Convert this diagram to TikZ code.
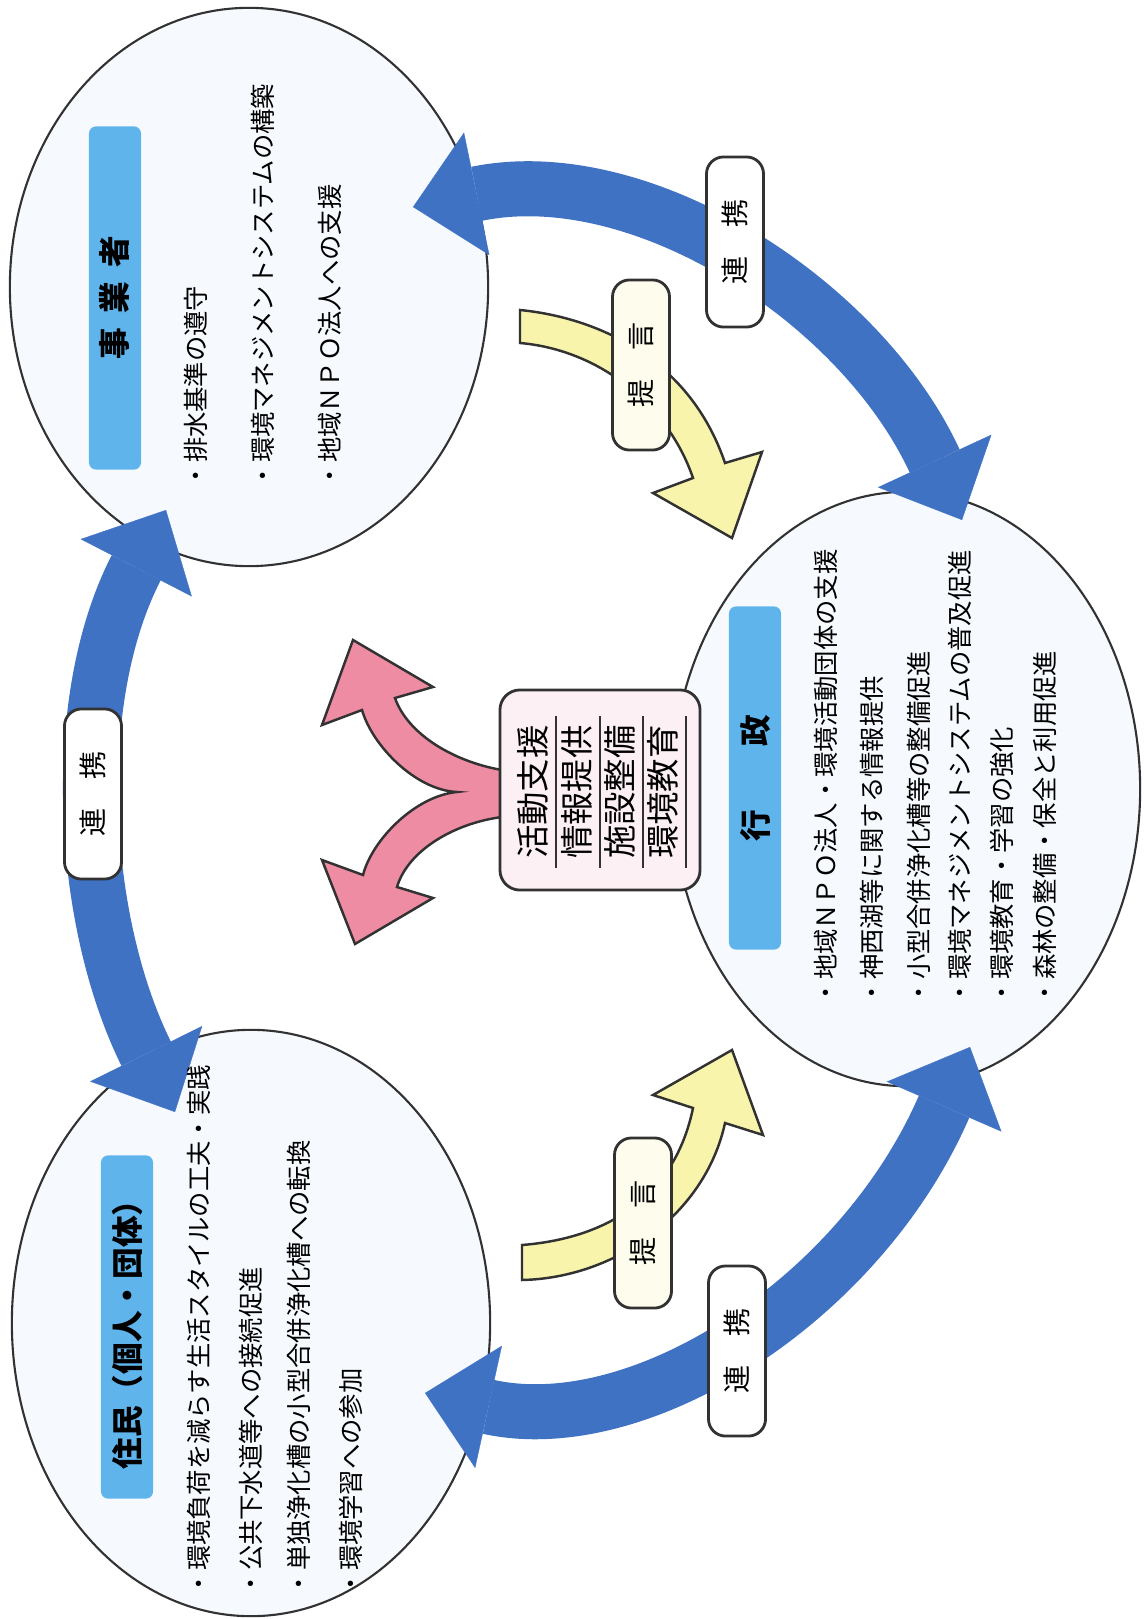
\documentclass[tikz,border=0pt]{standalone}
\usepackage{fontspec}
\newfontfamily\jp{Noto Sans CJK JP}
\usetikzlibrary{shapes.geometric,arrows.meta}
\definecolor{bandblue}{RGB}{64,114,196}
\definecolor{tagblue}{RGB}{96,180,236}
\definecolor{ovalfill}{RGB}{246,250,254}
\definecolor{pinkarrow}{RGB}{238,140,164}
\definecolor{pinkbox}{RGB}{253,240,244}
\definecolor{yelarrow}{RGB}{248,244,172}
\definecolor{yelbox}{RGB}{254,252,236}
\definecolor{edge}{RGB}{50,50,50}

\begin{document}
\begin{tikzpicture}[x=0.01cm,y=-0.01cm,
    ovalnode/.style={ellipse,draw=edge,line width=0.6pt,fill=ovalfill,minimum width=4.78cm,minimum height=5.86cm,inner sep=0},
    titlebox/.style={rotate=90,fill=tagblue,rounded corners=2pt,minimum width=3.43cm,minimum height=0.52cm,inner sep=0,font=\jp\bfseries\fontsize{9}{10}\selectfont},
    itemtext/.style={rotate=90,anchor=west,inner sep=0,font=\jp\fontsize{7.2}{8}\selectfont},
    bluearc/.style={draw=bandblue,line width=5.5mm,{Triangle[length=6.5mm,width=12.5mm,line width=0.1pt]}-{Triangle[length=6.5mm,width=12.5mm,line width=0.1pt]}},
    shapeline/.style={draw=edge,line width=0.7pt,line join=miter},
    tagbox/.style={rotate=90,draw=edge,line width=0.8pt,rounded corners=0.17cm,minimum width=1.7cm,minimum height=0.57cm,inner sep=0,font=\jp\fontsize{8}{9}\selectfont},
    hubbox/.style={draw=edge,line width=0.8pt,fill=pinkbox,rounded corners=0.2cm,minimum width=2cm,minimum height=2cm},
    hubtext/.style={rotate=90,minimum width=1.5cm,inner xsep=0,inner ysep=0.065cm,font=\jp\fontsize{9.5}{10}\selectfont}]
  \useasboundingbox (0,0) rectangle (1144,1619);

  \node[ovalnode,minimum height=5.58cm] (jigyo) at (249,287) {};
  \node[ovalnode] (jumin) at (251,1323) {};
  \node[ovalnode,minimum width=4.68cm,minimum height=5.94cm] (gyosei) at (906,789) {};

  \coordinate (lt) at (166,510); \coordinate (lb) at (175,1112);
  \coordinate (tl) at (413,207); \coordinate (tr) at (962,520);
  \coordinate (bl) at (425,1393); \coordinate (br) at (970,1047);
  \draw[bluearc] (lt) .. controls (68,700) and (80,920) .. (lb);
  \draw[bluearc] (tl) .. controls (640,160) and (860,300) .. (tr);
  \draw[bluearc] (bl) .. controls (640,1440) and (860,1300) .. (br);

  \filldraw[shapeline,fill=yelarrow] (520,310) .. controls (600,318) and (690,360) .. (725,463) -- (762,452) -- (732,538) -- (653,493) -- (693,478) .. controls (668,405) and (600,350) .. (520,343) -- cycle;
  \filldraw[shapeline,fill=yelarrow] (522,1245) .. controls (610,1238) and (675,1195) .. (693,1108) -- (653,1095) -- (732,1050) -- (763,1135) -- (725,1123) .. controls (705,1215) and (615,1278) .. (522,1280) -- cycle;

  \filldraw[shapeline,fill=pinkarrow] (502,770) .. controls (455,762) and (408,735) .. (395,698) -- (433,687) -- (353,640) -- (322,725) -- (362,710) .. controls (372,745) and (415,790) .. (457,792) .. controls (415,796) and (372,840) .. (363,875) -- (322,860) -- (355,944) -- (433,898) -- (397,887) .. controls (408,850) and (455,823) .. (502,817) -- cycle;

  \node[hubbox] (hub) at (600,790) {};
  \node[hubtext] (h1) at (533,792) {活動支援};
  \node[hubtext] (h2) at (577,792) {情報提供};
  \node[hubtext] (h3) at (620,792) {施設整備};
  \node[hubtext] (h4) at (663,792) {環境教育};
  \foreach \h in {h1,h2,h3,h4}
    \draw[edge,line width=0.6pt] (\h.south west) -- (\h.south east);

  \node[tagbox,fill=white] (rk1) at (735,242) {連　携};
  \node[tagbox,fill=white] (rk2) at (93,794) {連　携};
  \node[tagbox,fill=white] (rk3) at (737,1351) {連　携};
  \node[tagbox,fill=yelbox] (tg1) at (641,365) {提　言};
  \node[tagbox,fill=yelbox] (tg2) at (643,1223) {提　言};

  \node[titlebox] (jigyot) at (115,298) {事\hspace{0.45em}業\hspace{0.45em}者};
  \node[titlebox] (jumint) at (127,1327) {住民（個人・団体）};
  \node[titlebox] (gyoseit) at (755,778) {行　　政};

  \node[itemtext] (j1) at (196,489) {・排水基準の遵守};
  \node[itemtext] (j2) at (263,489) {・環境マネジメントシステムの構築};
  \node[itemtext] (j3) at (330,489) {・地域ＮＰＯ法人への支援};

  \node[itemtext] (m1) at (199,1597) {・環境負荷を減らす生活スタイルの工夫・実践};
  \node[itemtext] (m2) at (251,1597) {・公共下水道等への接続促進};
  \node[itemtext] (m3) at (299,1597) {・単独浄化槽の小型合併浄化槽への転換};
  \node[itemtext] (m4) at (351,1597) {・環境学習への参加};

  \node[itemtext] (g1) at (826,1006) {・地域ＮＰＯ法人・環境活動団体の支援};
  \node[itemtext] (g2) at (872,1006) {・神西湖等に関する情報提供};
  \node[itemtext] (g3) at (919,1006) {・小型合併浄化槽等の整備促進};
  \node[itemtext] (g4) at (960,1006) {・環境マネジメントシステムの普及促進};
  \node[itemtext] (g5) at (1002,1006) {・環境教育・学習の強化};
  \node[itemtext] (g6) at (1045,1006) {・森林の整備・保全と利用促進};
\end{tikzpicture}
\end{document}
